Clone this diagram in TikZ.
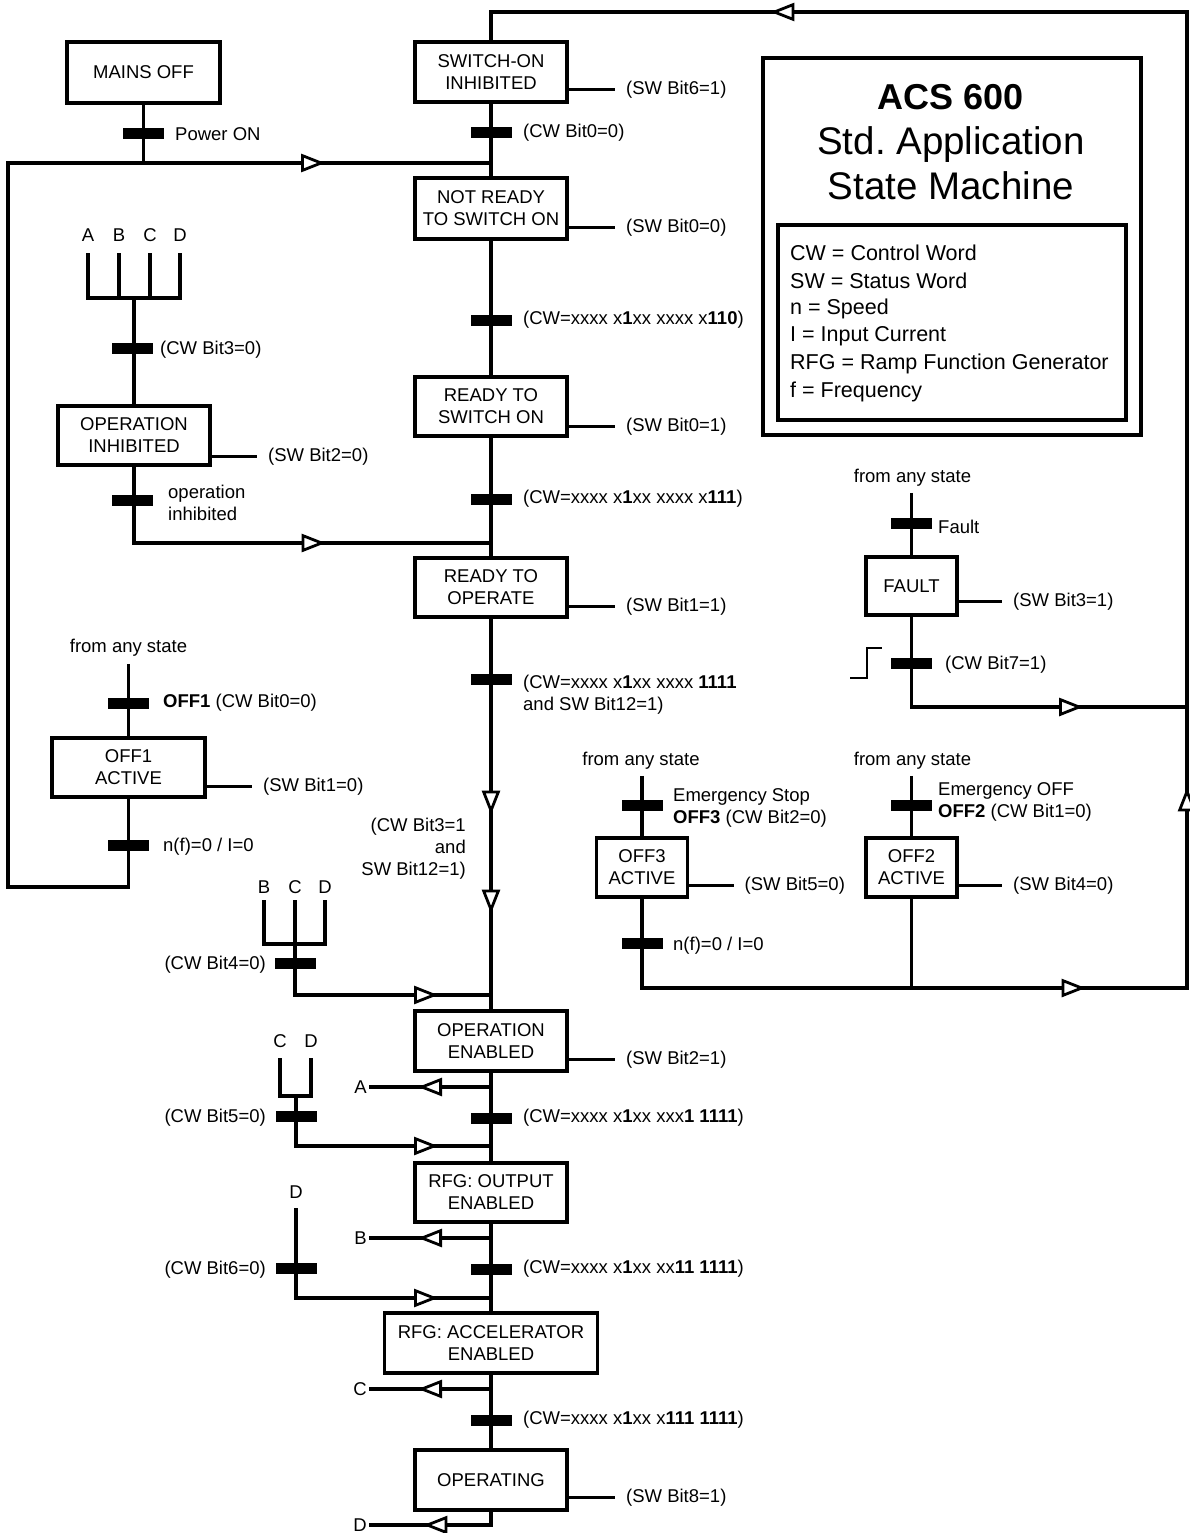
\documentclass[tikz,border=0pt]{standalone}
\usepackage{fontspec}
\setmainfont{Liberation Sans}
\usetikzlibrary{arrows.meta,decorations.markings}
\newcommand\lblf{\fontsize{18.5}{22}\selectfont}
\newcommand\legf{\fontsize{21.5}{26}\selectfont}
\newcommand\titf{\fontsize{38.5}{45}\selectfont}
\tikzset{
 ln/.style={line width=3.2pt, line join=miter},
 box/.style={draw, line width=3.2pt, minimum width=152pt, minimum height=60pt, align=center, inner sep=0pt, font=\lblf},
 bar/.style={fill=black, minimum width=41pt, minimum height=11pt, inner sep=0pt},
 lab/.style={anchor=west, inner sep=0pt, font=\lblf, align=left},
 labr/.style={anchor=east, inner sep=0pt, font=\lblf, align=right},
 txt/.style={inner sep=0pt, font=\lblf},
 mk/.style={postaction={decorate,decoration={markings,mark=at position #1 with {\arrow{Triangle[length=24pt,width=18pt,fill=white,line width=2.8pt]}}}}},
 swline/.style={ln},
}
\begin{document}
\begin{tikzpicture}[x=1pt,y=-1pt]
\useasboundingbox (0,0) rectangle (1189,1533);

% ---------- title and legend ----------
\node[draw, line width=3.2pt, minimum width=378pt, minimum height=377pt, inner sep=0pt] (tbox) at (952,246.5) {};
\node[draw, line width=3.2pt, minimum width=348pt, minimum height=195pt, inner sep=0pt] (lbox) at (952,322.5) {};
\node[font=\titf, align=center, inner sep=0pt] (title) at (951,142) {{\fontsize{36}{45}\selectfont\textbf{ACS 600}}\\Std.\ Application\\State Machine};
\foreach \t [count=\i] in {CW = Control Word, SW = Status Word, n = Speed, I = Input Current, RFG = Ramp Function Generator, f = Frequency}
  \node[anchor=west, inner sep=0pt, font=\legf] (leg\i) at (790,{253+27.8*(\i-1)}) {\t};

% ---------- state boxes ----------
\node[box, minimum width=153pt, minimum height=61pt] (mains) at (143.5,72.5) {MAINS OFF};
\node[box] (si) at (491,72) {SWITCH-ON\\INHIBITED};
\node[box, minimum height=61pt] (nr) at (491,208.5) {NOT READY\\TO SWITCH ON};
\node[box, minimum height=59pt] (rsw) at (491,406.5) {READY TO\\SWITCH ON};
\node[box, minimum height=59pt] (rto) at (491,587.5) {READY TO\\OPERATE};
\node[box] (oe) at (491,1041) {OPERATION\\ENABLED};
\node[box, minimum height=59pt] (rfgo) at (491,1192.5) {RFG: OUTPUT\\ENABLED};
\node[box, minimum width=213pt] (rfga) at (491,1343) {RFG: ACCELERATOR\\ENABLED};
\node[box] (op) at (491,1480) {OPERATING};
\node[box, minimum height=59pt] (oi) at (134,435.5) {OPERATION\\INHIBITED};
\node[box, minimum width=153pt, minimum height=59pt] (off1) at (128.5,767.5) {OFF1\\ACTIVE};
\node[box, minimum width=91pt, minimum height=58pt] (fault) at (911.5,586) {FAULT};
\node[box, minimum width=91pt, minimum height=59pt] (off3) at (642,867.5) {OFF3\\ACTIVE};
\node[box, minimum width=91pt, minimum height=59pt] (off2) at (911.5,867.5) {OFF2\\ACTIVE};

% ---------- status word labels ----------
\draw[swline] ([yshift=14pt]si.south east) -- ++(46,0) node[lab, xshift=10pt] (sw1) {(SW Bit6=1)};
\draw[swline] ([yshift=13pt]nr.south east) -- ++(46,0) node[lab, xshift=10pt] (sw2) {(SW Bit0=0)};
\draw[swline] ([yshift=11pt]rsw.south east) -- ++(46,0) node[lab, xshift=10pt] (sw3) {(SW Bit0=1)};
\draw[swline] ([yshift=12pt]rto.south east) -- ++(46,0) node[lab, xshift=10pt] (sw4) {(SW Bit1=1)};
\draw[swline] ([yshift=13pt]oe.south east) -- ++(46,0) node[lab, xshift=10pt] (sw5) {(SW Bit2=1)};
\draw[swline] ([yshift=14pt]op.south east) -- ++(46,0) node[lab, xshift=10pt] (sw6) {(SW Bit8=1)};
\draw[swline] ([yshift=10pt]oi.south east) -- ++(45,0) node[lab, xshift=10pt] (sw7) {(SW Bit2=0)};
\draw[swline] ([yshift=12pt]off1.south east) -- ++(45,0) node[lab, xshift=10pt] (sw8) {(SW Bit1=0)};
\draw[swline] ([yshift=15pt]fault.south east) -- ++(43,0) node[lab, xshift=10pt] (sw9) {(SW Bit3=1)};
\draw[swline] ([yshift=13pt]off3.south east) -- ++(45,0) node[lab, xshift=9pt] (sw10) {(SW Bit5=0)};
\draw[swline] ([yshift=13pt]off2.south east) -- ++(43,0) node[lab, xshift=10pt] (sw11) {(SW Bit4=0)};

% ---------- main column ----------
\coordinate (topL) at (491,12);
\coordinate (topR) at (1187,12);
\coordinate (botR) at (1187,988);
\coordinate (bot3) at (642,988);
\coordinate (bot2) at (911.5,988);
\coordinate (jn1) at (491,163);
\coordinate (jn2) at (491,543);
\coordinate (jn3) at (491,995);
\coordinate (jn4) at (491,1146);
\coordinate (jn5) at (491,1298);

\draw[ln] (si.south) -- (nr.north);
\draw[ln] (nr.south) -- (rsw.north);
\draw[ln] (rsw.south) -- (rto.north);
\draw[ln, mk=196pt, mk=295pt] (rto.south) -- (oe.north);
\draw[ln] (oe.south) -- (rfgo.north);
\draw[ln] (rfgo.south) -- (rfga.north);
\draw[ln] (rfga.south) -- (op.north);

\node[bar] (k1) at (491,133) {};
\node[bar] (k2) at (491,320) {};
\node[bar] (k3) at (491,499) {};
\node[bar] (k4) at (491,679) {};
\node[bar] (k5) at (491,1118) {};
\node[bar] (k6) at (491,1269) {};
\node[bar] (k7) at (491,1420) {};
\node[lab] (c1) at (523,133) {(CW Bit0=0)};
\node[lab] (c2) at (523,320) {(CW=xxxx x\textbf{1}xx xxxx x\textbf{110})};
\node[lab] (c3) at (523,499) {(CW=xxxx x\textbf{1}xx xxxx x\textbf{111})};
\node[lab] (c4) at (523,694.5) {(CW=xxxx x\textbf{1}xx xxxx \textbf{1111}\\and SW Bit12=1)};
\node[lab] (c5) at (523,1118) {(CW=xxxx x\textbf{1}xx xxx\textbf{1 1111})};
\node[lab] (c6) at (523,1269) {(CW=xxxx x\textbf{1}xx xx\textbf{11 1111})};
\node[lab] (c7) at (523,1420) {(CW=xxxx x\textbf{1}xx x\textbf{111 1111})};
\node[labr] (c8) at (466,849) {(CW Bit3=1\\and\\SW Bit12=1)};

% ---------- outputs A B C D ----------
\node[txt, anchor=east] (oA) at (367,1087) {A};
\node[txt, anchor=east] (oB) at (367,1238) {B};
\node[txt, anchor=east] (oC) at (367,1389) {C};
\node[txt, anchor=east] (oD) at (367,1525) {D};
\draw[ln, mk=73pt] (oe.south |- oA.east) -- ([xshift=2pt]oA.east);
\draw[ln, mk=73pt] (rfgo.south |- oB.east) -- ([xshift=2pt]oB.east);
\draw[ln, mk=73pt] (rfga.south |- oC.east) -- ([xshift=2pt]oC.east);
\draw[ln, mk=81pt] (op.south) |- ([xshift=2pt]oD.east);

% ---------- mains off / power on ----------
\draw[ln] (mains.south) -- (mains.south |- jn1);
\node[bar] (k8) at (143.5,134) {};
\node[lab] (c9) at (175,134) {Power ON};

% ---------- operation inhibited branch ----------
\node[txt] (fA) at (88,235) {A};
\node[txt] (fB) at (119,235) {B};
\node[txt] (fC) at (150,235) {C};
\node[txt] (fD) at (180,235) {D};
\coordinate (fork1) at (134,298);
\draw[ln] (88,253) -- (88,298) -- (180,298) -- (180,253);
\draw[ln] (119,253) -- (119,298);
\draw[ln] (150,253) -- (150,298);
\draw[ln] (fork1) -- (oi.north);
\node[bar] (k9) at (132,348) {};
\node[lab] (c10) at (160,350) {(CW Bit3=0)};
\node[bar] (k10) at (132,500) {};
\node[lab] (c11) at (168,503) {operation\\inhibited};
\draw[ln, mk=268pt] (oi.south) |- (jn2);

% ---------- OFF1 branch ----------
\node[txt] (any1) at (128.5,648) {from any state};
\draw[ln] ([yshift=-7pt]any1.south) -- (off1.north);
\node[bar] (k11) at (128.5,703) {};
\node[lab] (c12) at (163,703) {\textbf{OFF1} (CW Bit0=0)};
\node[bar] (k12) at (128.5,845) {};
\node[lab] (c13) at (163,847) {n(f)=0 / I=0};
\draw[ln, mk=1250pt] (off1.south) -- (128.5,887) -- (8,887) -- (8,163) -- (jn1);

% ---------- B C D fork ----------
\node[txt] (gB) at (264,887) {B};
\node[txt] (gC) at (295,887) {C};
\node[txt] (gD) at (325,887) {D};
\coordinate (fork2) at (295,944);
\draw[ln] (264,900) -- (264,944) -- (325,944) -- (325,900);
\draw[ln] (295,900) -- (fork2);
\node[bar] (k13) at (295,963) {};
\node[labr] (c14) at (266,965) {(CW Bit4=0)};
\draw[ln, mk=194pt] (fork2) |- (jn3);

% ---------- C D fork ----------
\node[txt] (hC) at (280,1041) {C};
\node[txt] (hD) at (311,1041) {D};
\coordinate (fork3) at (296,1096);
\draw[ln] (280,1058) -- (280,1096) -- (311,1096) -- (311,1058);
\node[bar] (k14) at (296,1116) {};
\node[labr] (c15) at (266,1118) {(CW Bit5=0)};
\draw[ln, mk=192pt] (fork3) |- (jn4);

% ---------- D ----------
\node[txt] (iD) at (296,1192) {D};
\coordinate (fork4) at (296,1208);
\node[bar] (k15) at (296,1268) {};
\node[labr] (c16) at (266,1270) {(CW Bit6=0)};
\draw[ln, mk=232pt] (fork4) |- (jn5);

% ---------- FAULT branch ----------
\node[txt] (any2) at (912.5,478) {from any state};
\draw[ln] ([yshift=-6pt]any2.south -| fault.north) -- (fault.north);
\node[bar] (k16) at (911.5,523) {};
\node[lab] (c17) at (938,527) {Fault};
\node[bar] (k17) at (911.5,663) {};
\node[lab] (c18) at (945,665) {(CW Bit7=1)};
\draw[line width=2.2pt] (850,678) -- (867,678) -- (867,648) -- (882,648);
\draw[ln, mk=262pt] (fault.south) -- (911.5,707) -- (1187,707);

% ---------- OFF3 branch ----------
\node[txt] (any3) at (641,761) {from any state};
\draw[ln] ([yshift=-6pt]any3.south -| off3.north) -- (off3.north);
\node[bar] (k18) at (642,805) {};
\node[lab] (c19) at (673,807.5) {Emergency Stop\\\textbf{OFF3} (CW Bit2=0)};
\node[bar] (k19) at (642,943) {};
\node[lab] (c20) at (673,946) {n(f)=0 / I=0};

% ---------- OFF2 branch ----------
\node[txt] (any4) at (912.5,761) {from any state};
\draw[ln] ([yshift=-6pt]any4.south -| off2.north) -- (off2.north);
\node[bar] (k20) at (911.5,805) {};
\node[lab] (c21) at (938,801.5) {Emergency OFF\\\textbf{OFF2} (CW Bit1=0)};
\draw[ln] (off2.south) -- (bot2);

% ---------- return loop to SWITCH-ON INHIBITED ----------
\draw[ln, mk=533pt, mk=835pt, mk=2027pt] (off3.south) -- (bot3) -- (botR) -- (topR) -- (topL) -- (si.north);
\end{tikzpicture}
\end{document}
